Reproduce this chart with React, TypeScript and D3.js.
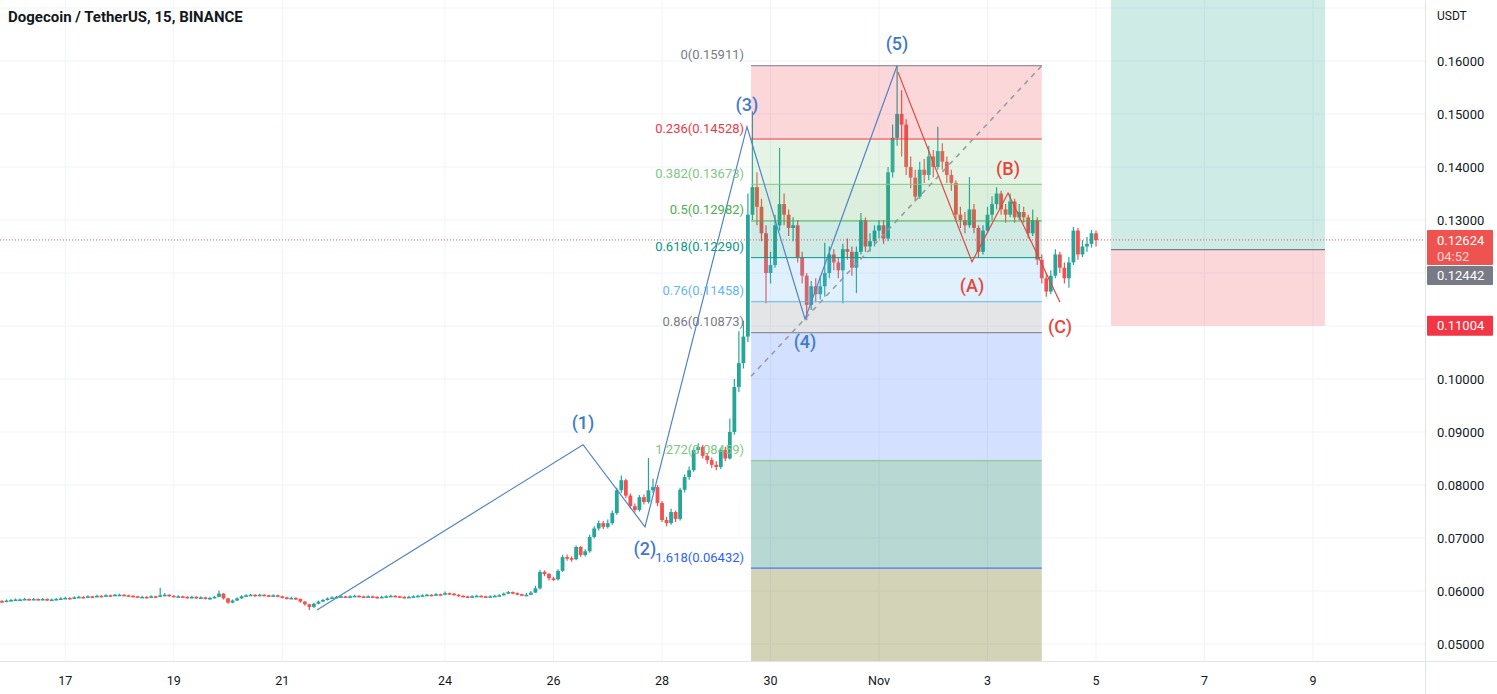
import React from "react";
import * as d3 from "d3";

// ---------- data ----------
// time unit: days counted from Oct 0, 2021 (Oct 24 = 24, Nov 1 = 32)
const xDomain = [15.797, 42.064];
const yDomain = [0.05, 0.16];

const dateTicks = [17, 19, 21, 24, 26, 28, 30, 32, 34, 36, 38, 40];
const dateTickLabels = ["17", "19", "21", "24", "26", "28", "30", "Nov", "3", "5", "7", "9"];
const priceTicks = [0.05, 0.06, 0.07, 0.08, 0.09, 0.1, 0.11, 0.12, 0.13, 0.14, 0.15, 0.16];
const priceGrid = [0.05, 0.06, 0.07, 0.08, 0.09, 0.1, 0.11, 0.12, 0.13, 0.14, 0.15, 0.16, 0.17];

// 2-hour bars starting Oct 15 20:00, prices in 1e-4 USDT
const barStart = 15 + 20 / 24;
const barStep = 2 / 24;
const firstOpen = 581;
const closes = [
  580,582,583,584,584,585,584,585,584,585,
  583,584,585,586,587,586,588,589,588,590,
  589,591,590,592,591,593,593,592,591,590,
  589,589,588,590,589,592,593,591,590,590,
  589,588,589,587,588,586,587,589,595,586,
  578,582,586,590,592,593,591,593,592,591,
  592,590,588,586,587,585,580,575,570,576,
  580,583,586,588,589,590,589,590,591,590,
  589,590,589,588,589,590,591,590,589,588,
  589,590,591,592,593,592,594,593,596,595,
  593,591,590,589,590,591,590,589,590,591,
  592,595,598,596,594,592,593,597,605,636,
  632,624,622,638,664,662,660,683,668,675,
  702,718,728,721,728,747,790,809,780,760,
  753,777,768,790,796,766,734,728,749,736,
  791,815,828,866,872,855,847,838,834,866,
  850,900,985,1030,1080,1310,1362,1325,1275,1200,
  1215,1290,1330,1310,1285,1290,1230,1195,1140,1175,
  1160,1175,1200,1235,1220,1205,1245,1240,1210,1240,
  1300,1250,1260,1280,1290,1265,1390,1455,1500,1480,
  1400,1380,1344,1395,1385,1420,1400,1430,1410,1385,
  1370,1310,1300,1290,1320,1285,1240,1280,1310,1330,
  1350,1320,1310,1335,1305,1315,1305,1275,1300,1225,
  1190,1165,1195,1235,1210,1190,1220,1280,1235,1250,
  1255,1275,1262,
];
const highs = [
  583,584,585,586,586,587,586,587,586,587,
  586,586,587,588,589,588,590,591,590,592,
  591,593,592,594,593,595,595,594,593,592,
  591,591,590,592,591,606,596,594,592,592,
  591,590,591,590,590,589,589,591,601,596,
  587,584,588,592,594,595,594,595,594,593,
  594,593,591,589,589,588,586,581,576,578,
  582,585,588,590,591,592,591,592,593,592,
  591,592,591,590,591,592,593,592,591,590,
  591,592,593,594,595,594,596,595,599,597,
  596,594,592,591,592,593,592,591,592,593,
  594,597,600,599,597,595,596,600,610,640,
  639,634,627,641,668,669,665,686,685,679,
  706,722,733,732,735,752,795,818,812,784,
  765,781,782,851,812,800,770,740,755,752,
  795,820,835,870,879,876,860,852,845,870,
  872,925,1000,1090,1110,1350,1505,1390,1340,1290,
  1240,1310,1436,1350,1320,1305,1300,1240,1200,1185,
  1190,1195,1257,1250,1245,1230,1255,1265,1250,1250,
  1313,1305,1275,1290,1300,1300,1400,1480,1591,1545,
  1490,1420,1395,1410,1415,1440,1432,1476,1445,1420,
  1395,1375,1325,1315,1381,1330,1290,1290,1325,1345,
  1362,1355,1330,1350,1340,1330,1325,1310,1320,1305,
  1235,1200,1205,1245,1240,1220,1230,1287,1285,1262,
  1268,1281,1280,
];
const lows = [
  578,579,581,582,582,583,582,583,582,583,
  581,582,583,584,585,584,585,587,586,587,
  587,588,588,589,589,590,591,590,589,588,
  587,587,586,587,587,588,590,589,588,588,
  587,586,586,585,585,584,584,586,588,584,
  576,577,581,585,589,591,589,590,590,589,
  590,588,586,584,585,583,578,572,564,568,
  575,579,582,585,587,588,587,588,589,588,
  587,588,587,586,587,588,589,588,587,586,
  587,588,589,590,591,590,591,591,592,593,
  591,589,588,587,588,589,588,587,588,589,
  590,591,594,594,592,590,590,592,596,603,
  628,620,619,620,636,657,655,658,664,665,
  672,699,714,717,718,725,744,785,775,755,
  748,750,763,765,785,760,730,722,725,730,
  733,786,810,825,860,850,840,832,828,830,
  845,848,895,975,1020,1070,1300,1290,1260,1143,
  1180,1210,1280,1290,1270,1260,1220,1180,1111,1130,
  1145,1150,1155,1190,1205,1190,1143,1225,1195,1162,
  1235,1240,1240,1250,1265,1255,1260,1380,1440,1420,
  1385,1360,1335,1340,1370,1375,1380,1395,1395,1370,
  1355,1300,1285,1275,1285,1275,1230,1235,1275,1300,
  1320,1310,1295,1305,1295,1300,1295,1265,1270,1215,
  1180,1155,1160,1190,1200,1180,1172,1215,1225,1230,
  1240,1248,1250,
];

// Fibonacci retracement
const fibStartT = 29.641;
const fibEndT = 35.0;
const fibOnePrice = 0.10051;
const fibLevels = ["0", "0.236", "0.382", "0.5", "0.618", "0.76", "0.86", "1.272", "1.618"];
const fibPrices = [0.15911, 0.14528, 0.13673, 0.12982, 0.1229, 0.11458, 0.10873, 0.08459, 0.06432];
const fibLineColors = ["#787b86", "#f23645", "#81c784", "#4caf50", "#089981", "#64b5f6", "#787b86", "#81c784", "#2962ff"];
const fibZoneColors = [
  "rgba(242,54,69,0.2)",
  "rgba(129,199,132,0.2)",
  "rgba(76,175,80,0.2)",
  "rgba(8,153,129,0.2)",
  "rgba(100,181,246,0.2)",
  "rgba(120,123,134,0.2)",
  "rgba(41,98,255,0.2)",
  "rgba(18,125,108,0.3)",
  "rgba(108,108,18,0.3)",
];

// Elliott impulse
const waveTimes = [21.64, 26.544, 27.686, 29.566, 30.636, 32.332];
const wavePrices = [0.0564, 0.0876, 0.0721, 0.1476, 0.1113, 0.1591];
const waveLabels = ["", "(1)", "(2)", "(3)", "(4)", "(5)"];
const waveLabelSide = [0, -1, 1, -1, 1, -1];

// ABC correction
const corrTimes = [32.35, 33.714, 34.378, 35.336];
const corrPrices = [0.1579, 0.1221, 0.1351, 0.1145];
const corrLabels = ["", "(A)", "(B)", "(C)"];
const corrLabelSide = [0, 1, -1, 1];

// Long position tool
const posStartT = 36.276;
const posEndT = 40.22;
const posEntry = 0.12442;
const posStop = 0.11004;
const posTarget = 0.18;

const lastPrice = 0.12624;
const countdown = "04:52";

// ---------- layout ----------
const W = 1497;
const H = 694;
const PR = 1425; // plot right
const PB = 661; // plot bottom
const FONT = "Roboto, 'Noto Sans', sans-serif";

export default function App() {
  const xs = d3.scaleLinear().domain(xDomain).range([0, PR]);
  const ys = d3.scaleLinear().domain(yDomain).range([644, 61]);

  const bars = closes.map((c, i) => {
    const o = i === 0 ? firstOpen : closes[i - 1];
    return { t: barStart + i * barStep, o: o / 1e4, c: c / 1e4, h: highs[i] / 1e4, l: lows[i] / 1e4 };
  });

  const fx0 = xs(fibStartT);
  const fx1 = xs(fibEndT);
  const fibY = fibPrices.map((p) => ys(p));

  const waveLine = d3
    .line<number>()
    .x((_, i) => xs(waveTimes[i]))
    .y((p) => ys(p));
  const corrLine = d3
    .line<number>()
    .x((_, i) => xs(corrTimes[i]))
    .y((p) => ys(p));
  const bw = 3.8;

  const fmt = (p: number) => p.toFixed(5);

  return (
    <svg
      width={W}
      height={H}
      style={{ position: "absolute", left: 0, top: 0, background: "#fff", fontFamily: FONT }}
    >
      <defs>
        <clipPath id="plot">
          <rect x={0} y={0} width={PR} height={PB} />
        </clipPath>
      </defs>
      <rect x={0} y={0} width={W} height={H} fill="#ffffff" />

      {/* grid */}
      <g>
        {priceGrid.map((p) => (
          <line key={"hg" + p} x1={0} x2={PR} y1={ys(p)} y2={ys(p)} stroke="#f0f3fa" strokeWidth={1} />
        ))}
        {dateTicks.map((d) => (
          <line key={"vg" + d} x1={xs(d)} x2={xs(d)} y1={0} y2={PB} stroke="#f0f3fa" strokeWidth={1} />
        ))}
      </g>

      <g clipPath="url(#plot)">
        {/* candles */}
        {bars.map((b, i) => {
          const up = b.c >= b.o;
          const col = up ? "#26a69a" : "#ef5350";
          const x = xs(b.t);
          const top = ys(Math.max(b.o, b.c));
          const hgt = Math.max(1.6, Math.abs(ys(b.o) - ys(b.c)));
          return (
            <g key={"c" + i}>
              <line x1={x} x2={x} y1={ys(b.h)} y2={ys(b.l)} stroke={col} strokeWidth={1.2} />
              <rect x={x - bw / 2} y={top} width={bw} height={hgt} fill={col} />
            </g>
          );
        })}

        {/* fib zones */}
        {fibY.map((y, i) => {
          const yNext = i < fibY.length - 1 ? fibY[i + 1] : PB;
          return <rect key={"fz" + i} x={fx0} y={y} width={fx1 - fx0} height={yNext - y} fill={fibZoneColors[i]} />;
        })}
        {fibY.map((y, i) => (
          <line key={"fl" + i} x1={fx0} x2={fx1} y1={y} y2={y} stroke={fibLineColors[i]} strokeWidth={1} />
        ))}
        {/* fib trend line */}
        <line
          x1={fx0}
          y1={ys(fibOnePrice)}
          x2={fx1}
          y2={ys(fibPrices[0])}
          stroke="#9598a1"
          strokeWidth={1.5}
          strokeDasharray="5 5"
        />

        {/* position tool */}
        <rect
          x={xs(posStartT)}
          y={ys(posTarget)}
          width={xs(posEndT) - xs(posStartT)}
          height={ys(posEntry) - ys(posTarget)}
          fill="rgba(8,153,129,0.2)"
        />
        <rect
          x={xs(posStartT)}
          y={ys(posEntry)}
          width={xs(posEndT) - xs(posStartT)}
          height={ys(posStop) - ys(posEntry)}
          fill="rgba(242,54,69,0.2)"
        />
        <line
          x1={xs(posStartT)}
          x2={xs(posEndT)}
          y1={ys(posEntry)}
          y2={ys(posEntry)}
          stroke="#787b86"
          strokeWidth={1.2}
        />

        {/* last price line */}
        <line
          x1={0}
          x2={PR}
          y1={ys(lastPrice)}
          y2={ys(lastPrice)}
          stroke="#ef5350"
          strokeWidth={1}
          strokeDasharray="1 2"
        />

        {/* elliott impulse */}
        <path d={waveLine(wavePrices) || ""} fill="none" stroke="#5283c6" strokeWidth={1.2} />
        {waveLabels.map((lab, i) =>
          lab ? (
            <text
              key={"wl" + i}
              x={xs(waveTimes[i])}
              y={ys(wavePrices[i]) + waveLabelSide[i] * 22}
              textAnchor="middle"
              dominantBaseline="central"
              fontSize={18}
              fontWeight={500}
              fill="#3f7bc6"
            >
              {lab}
            </text>
          ) : null
        )}

        {/* ABC correction */}
        <path d={corrLine(corrPrices) || ""} fill="none" stroke="#e0463f" strokeWidth={1.2} />
        {corrLabels.map((lab, i) =>
          lab ? (
            <text
              key={"cl" + i}
              x={xs(corrTimes[i])}
              y={ys(corrPrices[i]) + corrLabelSide[i] * 24}
              textAnchor="middle"
              dominantBaseline="central"
              fontSize={18}
              fontWeight={500}
              fill="#e8453c"
            >
              {lab}
            </text>
          ) : null
        )}
      </g>

      {/* fib labels */}
      {fibY.map((y, i) => (
        <text
          key={"ft" + i}
          x={fx0 - 7}
          y={y - 11}
          textAnchor="end"
          dominantBaseline="central"
          fontSize={13}
          fill={fibLineColors[i]}
        >
          {fibLevels[i] + "(" + fmt(fibPrices[i]) + ")"}
        </text>
      ))}

      {/* axes separators */}
      <line x1={PR + 0.5} x2={PR + 0.5} y1={0} y2={H} stroke="#e0e3eb" strokeWidth={1} />
      <line x1={0} x2={W} y1={PB + 0.5} y2={PB + 0.5} stroke="#e0e3eb" strokeWidth={1} />

      {/* right axis */}
      <text x={1437} y={16} dominantBaseline="central" fontSize={12} fill="#131722">
        USDT
      </text>
      {priceTicks.map((p) => (
        <text key={"pt" + p} x={1437} y={ys(p)} dominantBaseline="central" fontSize={13} fill="#131722">
          {fmt(p)}
        </text>
      ))}

      {/* price badges */}
      <rect x={1427} y={ys(lastPrice) - 10} width={66} height={35} fill="#ef5350" rx={1} />
      <text x={1437} y={ys(lastPrice) + 1} dominantBaseline="central" fontSize={13} fill="#ffffff">
        {fmt(lastPrice)}
      </text>
      <text x={1437} y={ys(lastPrice) + 17} dominantBaseline="central" fontSize={13} fill="#ffd6d6">
        {countdown}
      </text>
      <rect x={1427} y={ys(lastPrice) + 26} width={66} height={19} fill="#787b86" rx={1} />
      <text x={1437} y={ys(lastPrice) + 36} dominantBaseline="central" fontSize={13} fill="#ffffff">
        {fmt(posEntry)}
      </text>
      <rect x={1427} y={ys(posStop) - 10} width={66} height={20} fill="#f23645" rx={1} />
      <text x={1437} y={ys(posStop)} dominantBaseline="central" fontSize={13} fill="#ffffff">
        {fmt(posStop)}
      </text>

      {/* bottom axis */}
      {dateTicks.map((d, i) => (
        <text
          key={"dt" + d}
          x={xs(d)}
          y={680}
          textAnchor="middle"
          dominantBaseline="central"
          fontSize={12.5}
          fill="#131722"
        >
          {dateTickLabels[i]}
        </text>
      ))}

      {/* title */}
      <text x={8} y={17} dominantBaseline="central" fontSize={15} fontWeight="bold" fill="#131722">
        Dogecoin / TetherUS, 15, BINANCE
      </text>
    </svg>
  );
}
